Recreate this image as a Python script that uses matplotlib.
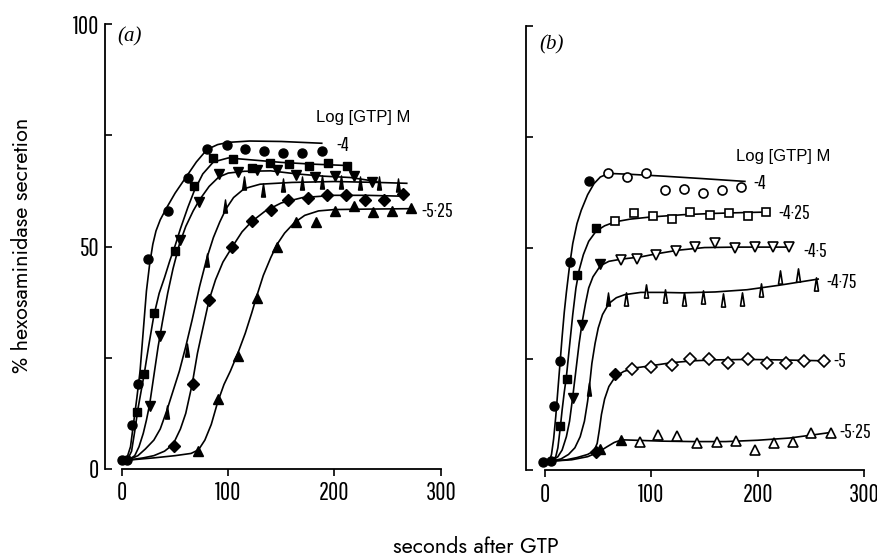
import matplotlib
matplotlib.use("Agg")
import matplotlib.pyplot as plt
from matplotlib.path import Path

# ---- panel (a): time course at each log [GTP] M ----
a_names = ["-4", "-4·25", "-4·5", "-4·75", "-5", "-5·25"]

a1_x = [0, 5, 9, 15.4, 24.8, 43, 61.8, 79.6, 98.5, 115.7, 133.6, 151.8, 169.6, 187.8]
a1_y = [2, 2, 9.9, 19.1, 47.1, 58, 65.5, 71.8, 72.7, 72, 71.4, 71, 71, 71.5]
a1_fx = [4, 8, 11, 14, 17, 20, 23, 26, 29, 32, 36, 42, 50, 60, 70, 80, 90, 100, 120, 150, 188]
a1_fy = [2, 5, 10.5, 16, 22, 31, 40, 46, 50.5, 53.5, 56, 58.7, 62, 65.5, 69, 71.8, 72.9, 73.4, 73.7, 73.6, 73.2]

a2_x = [14.4, 20.9, 30.4, 49.9, 68, 85.9, 104.1, 122, 139.2, 157.1, 176.2, 193.5, 211.9]
a2_y = [12.7, 21.3, 35, 49.1, 63.7, 69.8, 69.6, 67.7, 68.7, 68.5, 68.2, 68.7, 68.2]
a2_fx = [5, 9, 12, 15, 18, 21, 25, 30, 35, 40, 45, 50, 55, 62, 68, 76, 86, 100, 120, 150, 180, 212]
a2_fy = [2, 4, 8.5, 13.5, 17.5, 21.5, 27.5, 34.5, 39.5, 43, 46.8, 50.2, 54, 58.8, 62.5, 66.3, 69, 69.9, 69.5, 68.9, 68.5, 68.2]

a3_x = [26.3, 35.7, 54.6, 72.7, 90.9, 109.3, 127.5, 145.8, 163.4, 181.6, 200.4, 218.3, 234.9]
a3_y = [14.2, 29.9, 51.5, 59.9, 66.2, 66.7, 67.1, 67.2, 66.1, 65.7, 65.8, 65.8, 64.4]
a3_fx = [6, 12, 16, 20, 23, 26, 30, 34, 38, 43, 48, 54, 60, 67, 73, 82, 91, 100, 115, 140, 165, 190, 215, 240]
a3_fy = [2, 3, 5, 8, 11, 14.5, 21, 27.5, 33, 39.5, 45, 50.5, 54.5, 58, 60.5, 63.5, 65.6, 66.5, 66.9, 67, 66.3, 65.8, 65.5, 64.6]

a4_x = [42, 60.9, 79.7, 97, 115, 132.9, 151.1, 169, 187.8, 206, 223.9, 242, 259.3]
a4_y = [12.9, 26.7, 47, 59, 64.2, 62.7, 63.8, 64.2, 64.6, 64.6, 64.2, 64.2, 63.8]
a4_fx = [6, 15, 22, 30, 36, 42, 48, 54, 60, 66, 73, 80, 86, 92, 98, 105, 115, 130, 160, 200, 240, 268]
a4_fy = [2, 3, 4.5, 6.5, 9, 13, 17.5, 22, 27.5, 33.5, 41, 47.5, 52, 55.5, 58.5, 61, 63, 64, 64.4, 64.6, 64.4, 64.2]

a5_x = [48.9, 66.5, 82.2, 103.8, 122, 139.9, 156.5, 175.3, 192.5, 210.4, 228.6, 246.8, 264.6]
a5_y = [5.2, 19.1, 38, 49.8, 55.8, 58.1, 60.5, 60.8, 61.6, 61.6, 60.5, 60.5, 61.8]
a5_fx = [6, 20, 30, 40, 48, 55, 60, 66, 71, 76, 82, 88, 95, 104, 113, 122, 135, 150, 170, 200, 230, 265]
a5_fy = [2, 2.5, 3, 4, 5.5, 9, 12.5, 19, 26, 31.5, 38, 42.5, 46.5, 50, 53.3, 55.6, 58, 59.8, 61, 61.5, 61.5, 61.3]

a6_x = [71.8, 90.6, 108.8, 126.7, 145.5, 163.7, 182.5, 200.4, 218.3, 236.5, 253.7, 271.6]
a6_y = [4.1, 15.7, 25.4, 38.4, 49.9, 55.5, 55.5, 58, 59.2, 57.7, 58, 58.6]
a6_fx = [6, 30, 50, 65, 72, 78, 84, 90, 96, 102, 109, 116, 122, 127, 133, 140, 146, 153, 162, 172, 185, 200, 230, 272]
a6_fy = [2, 2.5, 3, 3.5, 4.3, 6.5, 10, 15, 19, 22, 26, 30.5, 35, 39, 43.5, 47.5, 50.5, 53, 55.3, 57, 58, 58.3, 58.4, 58.5]

# ---- panel (b) ----
b_names = ["-4", "-4·25", "-4·5", "-4·75", "-5", "-5·25"]
b_filled = [6, 4, 3, 2, 2, 2]   # first n points are solid symbols

b1_x = [-1.6, 5.4, 7.9, 14.2, 23, 41, 59, 76.7, 95.3, 112.7, 131, 148.4, 166.7, 184]
b1_y = [1.7, 2, 14.5, 24.6, 46.9, 65, 67, 66.1, 67, 63.1, 63.3, 62.4, 63.1, 63.7]
b1_fx = [4, 6, 8, 10, 12, 14, 16, 18, 20, 23, 26, 30, 34, 40, 46, 52, 60, 80, 110, 150, 188]
b1_fy = [2, 3.5, 7, 12, 18, 24, 30, 35.5, 40, 46, 51, 55.5, 58.5, 62, 64.5, 66, 66.8, 66.6, 66.2, 65.6, 65]

b2_x = [14.2, 20.5, 30, 48.2, 66.2, 83.6, 101.6, 119.2, 136.6, 155.4, 173, 191, 207.6]
b2_y = [10, 20.5, 43.9, 54.5, 56, 57.8, 57.3, 56.5, 58.2, 57.5, 57.9, 57.3, 58.2]
b2_fx = [6, 10, 12, 14, 16, 18, 20, 23, 26, 29, 32, 36, 41, 48, 56, 66, 80, 100, 130, 160, 190, 210]
b2_fy = [2, 3, 5, 9, 13.5, 17.5, 21, 28, 35, 41, 45, 48.5, 51.5, 53.8, 55, 55.9, 56.5, 57, 57.5, 57.8, 58, 58.1]

b3_x = [26.2, 34.7, 51.4, 71, 86.1, 104.1, 123, 141.3, 160.2, 178.8, 197.1, 214.5, 229.3]
b3_y = [16.3, 32.6, 46.3, 47.3, 47.6, 48.5, 49.4, 50.2, 51.1, 50.1, 50.2, 50.2, 50.3]
b3_fx = [6, 12, 16, 20, 23, 26, 29, 32, 35, 38, 41, 45, 52, 60, 72, 90, 105, 125, 150, 180, 210, 230]
b3_fy = [2, 3, 4.5, 7.5, 11, 16.5, 22.5, 28.5, 33.5, 37.5, 41, 43.5, 46, 47, 47.5, 48, 48.7, 49.5, 50.1, 50.2, 50.2, 50.2]

b4_x = [41, 59, 76.2, 95.1, 113, 130.4, 148.7, 167.6, 185, 203, 220.6, 238.1, 255.4]
b4_y = [18.2, 38.6, 38.6, 40.4, 39.3, 38.6, 38.9, 38.2, 38.6, 40.5, 43.5, 43.9, 41.8]
b4_fx = [6, 15, 22, 28, 33, 37, 40, 42, 44, 47, 50, 54, 60, 67, 75, 90, 110, 130, 160, 190, 220, 257]
b4_fy = [2, 2.5, 3.5, 5, 7.5, 11, 15.5, 19.5, 24, 28.5, 32, 35, 37.5, 38.8, 39.5, 40, 40, 39.9, 40.1, 40.6, 41.6, 43]

b5_x = [48.2, 66.2, 82, 100, 119.2, 136.6, 154.5, 172.5, 191, 208.9, 226.3, 243.7, 262.2]
b5_y = [4.1, 21.6, 22.7, 23.2, 23.6, 24.9, 25.1, 24.2, 24.9, 24.2, 24.2, 24.5, 24.5]
b5_fx = [6, 20, 30, 40, 46, 49, 51, 53, 56, 60, 66, 74, 85, 100, 120, 140, 160, 190, 220, 262]
b5_fy = [2, 2.3, 2.8, 3.5, 4.3, 6, 9, 12.5, 16, 18.8, 21, 22.2, 23, 23.5, 24.2, 24.6, 24.8, 24.9, 24.8, 24.6]

b6_x = [52, 71.6, 88.9, 106.6, 124.5, 143.3, 161.3, 179.5, 197.7, 215.4, 233.4, 250.7, 268.7]
b6_y = [4.7, 6.8, 6.3, 7.9, 7.7, 6.0, 6.3, 6.6, 4.5, 6.0, 6.3, 8.3, 8.3]
b6_fx = [6, 25, 40, 50, 58, 65, 72, 85, 110, 140, 170, 200, 230, 255, 270]
b6_fy = [2, 2.3, 3, 4, 5.2, 6.2, 6.8, 6.7, 6.5, 6.4, 6.4, 6.7, 7.2, 8, 8.5]

# where the concentration labels sit (data coords)
a_lab_x = [202, 282]
a_lab_y = [72.8, 57.8]
b_lab_x = [196, 219.5, 243, 265, 271, 277]
b_lab_y = [64.5, 57.8, 49.3, 42.2, 24.5, 8.4]

narrow = ["Pathway Gothic One", "Liberation Sans Narrow", "DejaVu Sans"]
round_sans = ["Jost", "DejaVu Sans"]
tall_tri = Path([(-0.3, -1), (0.3, -1), (0, 1), (-0.3, -1)],
                [Path.MOVETO, Path.LINETO, Path.LINETO, Path.CLOSEPOLY])
markers = [("o", 6.5), ("s", 5.8), ("v", 7), (tall_tri, 9.5), ("D", 5.8), ("^", 6.5)]

fig = plt.figure(figsize=(8.78, 5.57), dpi=100)
ax_a = fig.add_axes([105 / 878, 88 / 557, 340 / 878, 445 / 557])
ax_b = fig.add_axes([526 / 878, 87 / 557, 340 / 878, 444 / 557])

for ax, left in ((ax_a, -16), (ax_b, -18)):
    ax.set_xlim(left, left + 320)
    ax.set_ylim(0, 100)
    ax.spines["top"].set_visible(False)
    ax.spines["right"].set_visible(False)
    ax.spines["left"].set_bounds(0, 100)
    ax.spines["bottom"].set_bounds(0, 300)
    ax.spines["left"].set_linewidth(1.3)
    ax.spines["bottom"].set_linewidth(1.3)
    ax.set_xticks([0, 100, 200, 300])
    ax.set_yticks([0, 25, 50, 75, 100])
    ax.tick_params(axis="y", direction="in", length=5, width=1.2, pad=4)
    ax.tick_params(axis="x", direction="out", length=5, width=1.2, pad=4)

ax_a.set_yticklabels(["0", "", "50", "", "100"])
ax_b.set_yticklabels(["", "", "", "", ""])
for ax in (ax_a, ax_b):
    for lab in ax.get_xticklabels() + ax.get_yticklabels():
        lab.set_family(narrow)
        lab.set_fontsize(18)

a_pts = [(a1_x, a1_y), (a2_x, a2_y), (a3_x, a3_y), (a4_x, a4_y), (a5_x, a5_y), (a6_x, a6_y)]
a_fit = [(a1_fx, a1_fy), (a2_fx, a2_fy), (a3_fx, a3_fy), (a4_fx, a4_fy), (a5_fx, a5_fy), (a6_fx, a6_fy)]
for (px, py), (fx, fy), (m, ms) in zip(a_pts, a_fit, markers):
    ax_a.plot(fx, fy, color="black", lw=1.2, zorder=2, clip_on=False)
    ax_a.plot(px, py, ls="none", marker=m, ms=ms, mfc="black", mec="black",
              zorder=3, clip_on=False)

b_pts = [(b1_x, b1_y), (b2_x, b2_y), (b3_x, b3_y), (b4_x, b4_y), (b5_x, b5_y), (b6_x, b6_y)]
b_fit = [(b1_fx, b1_fy), (b2_fx, b2_fy), (b3_fx, b3_fy), (b4_fx, b4_fy), (b5_fx, b5_fy), (b6_fx, b6_fy)]
for (px, py), (fx, fy), (m, ms), n in zip(b_pts, b_fit, markers, b_filled):
    ax_b.plot(fx, fy, color="black", lw=1.2, zorder=2, clip_on=False)
    ax_b.plot(px[:n], py[:n], ls="none", marker=m, ms=ms, mfc="black", mec="black",
              zorder=3, clip_on=False)
    ax_b.plot(px[n:], py[n:], ls="none", marker=m, ms=ms, mfc="white", mec="black",
              mew=1.2, zorder=3, clip_on=False)

ax_a.text(182.5, 79.1, "Log [GTP] M", family="Liberation Sans", fontsize=12, va="center")
ax_b.text(179.8, 70.6, "Log [GTP] M", family="Liberation Sans", fontsize=12, va="center")
for name, x, y in zip([a_names[0], a_names[5]], a_lab_x, a_lab_y):
    ax_a.text(x, y, name, family=narrow, fontsize=14.5, va="center")
for name, x, y in zip(b_names, b_lab_x, b_lab_y):
    ax_b.text(x, y, name, family=narrow, fontsize=14.5, va="center")

fig.text(117 / 878, 1 - 37 / 557, "(a)", family="Liberation Serif", style="italic",
         fontsize=15, va="center")
fig.text(539 / 878, 1 - 45 / 557, "(b)", family="Liberation Serif", style="italic",
         fontsize=15, va="center")

fig.text(0.025, 0.56, "% hexosaminidase secretion", rotation=90, family=round_sans,
         fontsize=15.5, ha="center", va="center")
fig.text(0.542, 0.018, "seconds after GTP", family=round_sans, fontsize=15.5,
         ha="center", va="center")

fig.savefig("out.png", dpi=100)
